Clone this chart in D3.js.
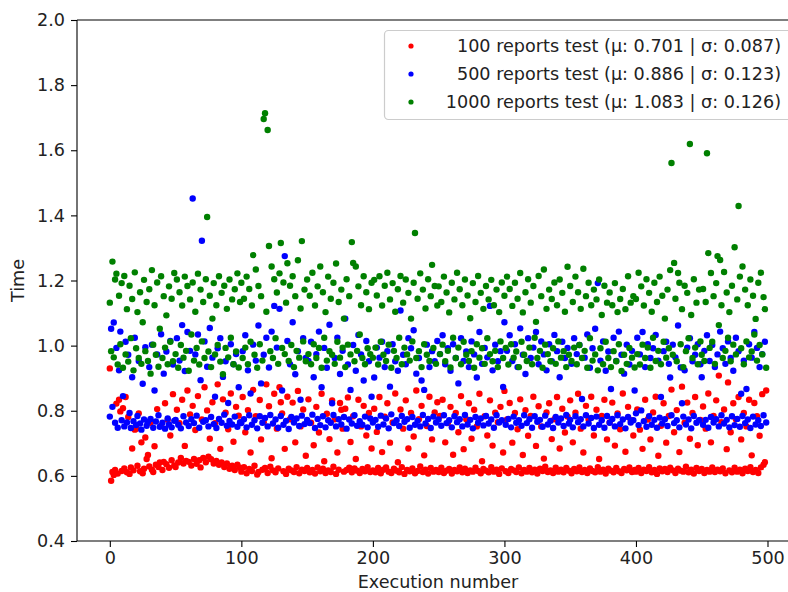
<!DOCTYPE html>
<html>
<head>
<meta charset="utf-8">
<script src="https://cdnjs.cloudflare.com/ajax/libs/d3/7.8.5/d3.min.js"></script>
<style>
  body { margin: 0; background: #fff; }
  text { font-family: "DejaVu Sans", sans-serif; }
</style>
</head>
<body>
<div id="chart"></div>
<script>
// values, one per execution (0..499)
var red100 = [
  0.930, 0.585, 0.612, 0.603, 0.618, 0.822, 0.607, 0.834, 0.798, 0.615,
  0.808, 0.623, 0.842, 0.611, 0.781, 0.606, 0.626, 0.684, 0.617, 0.742,
  0.745, 0.631, 0.792, 0.614, 0.703, 0.608, 0.622, 0.718, 0.652, 0.664,
  0.629, 0.763, 0.619, 0.612, 0.691, 0.634, 0.805, 0.627, 0.641, 0.754,
  0.618, 0.643, 0.823, 0.636, 0.772, 0.625, 0.724, 0.648, 0.851, 0.632,
  0.627, 0.803, 0.641, 0.762, 0.655, 0.834, 0.638, 0.692, 0.646, 0.862,
  0.643, 0.789, 0.632, 0.815, 0.652, 0.741, 0.637, 0.845, 0.648, 0.626,
  0.773, 0.655, 0.872, 0.642, 0.801, 0.659, 0.714, 0.651, 0.826, 0.638,
  0.762, 0.646, 0.881, 0.634, 0.683, 0.641, 0.835, 0.627, 0.794, 0.638,
  0.743, 0.622, 0.853, 0.631, 0.705, 0.618, 0.812, 0.634, 0.785, 0.625,
  0.613, 0.842, 0.627, 0.734, 0.608, 0.802, 0.621, 0.672, 0.615, 0.864,
  0.631, 0.783, 0.604, 0.612, 0.833, 0.712, 0.619, 0.765, 0.624, 0.881,
  0.609, 0.814, 0.628, 0.654, 0.617, 0.852, 0.611, 0.745, 0.623, 0.872,
  0.826, 0.792, 0.614, 0.683, 0.606, 0.843, 0.622, 0.774, 0.617, 0.825,
  0.612, 0.703, 0.627, 0.861, 0.608, 0.752, 0.619, 0.804, 0.615, 0.662,
  0.624, 0.835, 0.611, 0.763, 0.618, 0.694, 0.607, 0.812, 0.626, 0.733,
  0.614, 0.852, 0.622, 0.645, 0.609, 0.791, 0.617, 0.713, 0.612, 0.832,
  0.628, 0.774, 0.606, 0.672, 0.619, 0.824, 0.803, 0.745, 0.613, 0.806,
  0.618, 0.841, 0.625, 0.704, 0.611, 0.783, 0.623, 0.652, 0.616, 0.834,
  0.609, 0.752, 0.621, 0.815, 0.614, 0.724, 0.627, 0.793, 0.612, 0.684,
  0.617, 0.806, 0.611, 0.735, 0.624, 0.842, 0.608, 0.673, 0.619, 0.782,
  0.626, 0.823, 0.613, 0.702, 0.609, 0.764, 0.622, 0.853, 0.616, 0.642,
  0.611, 0.804, 0.627, 0.745, 0.606, 0.832, 0.618, 0.684, 0.614, 0.793,
  0.623, 0.721, 0.608, 0.862, 0.615, 0.774, 0.629, 0.815, 0.612, 0.663,
  0.619, 0.753, 0.607, 0.843, 0.624, 0.712, 0.613, 0.795, 0.618, 0.826,
  0.612, 0.784, 0.625, 0.834, 0.609, 0.703, 0.616, 0.762, 0.621, 0.812,
  0.607, 0.665, 0.618, 0.793, 0.614, 0.734, 0.626, 0.845, 0.611, 0.682,
  0.622, 0.774, 0.609, 0.823, 0.617, 0.714, 0.613, 0.803, 0.625, 0.752,
  0.615, 0.852, 0.608, 0.645, 0.621, 0.783, 0.616, 0.724, 0.611, 0.832,
  0.627, 0.693, 0.613, 0.794, 0.619, 0.765, 0.606, 0.812, 0.623, 0.672,
  0.861, 0.614, 0.773, 0.609, 0.824, 0.621, 0.702, 0.617, 0.793, 0.612,
  0.743, 0.626, 0.835, 0.608, 0.664, 0.618, 0.802, 0.613, 0.723, 0.624,
  0.784, 0.611, 0.843, 0.619, 0.692, 0.607, 0.814, 0.622, 0.752, 0.615,
  0.653, 0.628, 0.795, 0.612, 0.823, 0.617, 0.713, 0.609, 0.774, 0.625,
  0.842, 0.613, 0.684, 0.619, 0.806, 0.611, 0.733, 0.624, 0.782, 0.616,
  0.832, 0.608, 0.703, 0.621, 0.794, 0.614, 0.852, 0.626, 0.745, 0.612,
  0.672, 0.618, 0.815, 0.609, 0.773, 0.623, 0.843, 0.615, 0.724, 0.611,
  0.803, 0.627, 0.652, 0.613, 0.784, 0.619, 0.834, 0.607, 0.712, 0.622,
  0.764, 0.616, 0.825, 0.611, 0.693, 0.624, 0.792, 0.614, 0.743, 0.609,
  0.853, 0.621, 0.674, 0.617, 0.812, 0.626, 0.772, 0.612, 0.724, 0.618,
  0.613, 0.804, 0.624, 0.742, 0.609, 0.683, 0.619, 0.834, 0.615, 0.773,
  0.627, 0.712, 0.611, 0.795, 0.618, 0.843, 0.606, 0.662, 0.623, 0.754,
  0.614, 0.823, 0.621, 0.702, 0.612, 0.784, 0.625, 0.865, 0.617, 0.734,
  0.609, 0.802, 0.622, 0.673, 0.616, 0.874, 0.613, 0.763, 0.628, 0.825,
  0.611, 0.714, 0.619, 0.793, 0.607, 0.842, 0.624, 0.694, 0.615, 0.772,
  0.621, 0.813, 0.609, 0.745, 0.618, 0.853, 0.613, 0.703, 0.626, 0.784,
  0.612, 0.832, 0.619, 0.908, 0.614, 0.765, 0.623, 0.804, 0.608, 0.682,
  0.887, 0.617, 0.734, 0.611, 0.823, 0.625, 0.774, 0.613, 0.842, 0.619,
  0.712, 0.608, 0.793, 0.622, 0.752, 0.615, 0.834, 0.627, 0.663, 0.612,
  0.824, 0.618, 0.783, 0.609, 0.723, 0.626, 0.851, 0.634, 0.642, 0.862
];

var blue500 = [
  0.782, 1.052, 0.812, 1.071, 0.763, 0.993, 0.748, 0.924, 1.043, 0.771,
  0.845, 0.752, 1.012, 0.764, 0.972, 0.793, 0.747, 0.903, 0.768, 1.024,
  0.756, 0.784, 0.953, 0.761, 0.742, 0.883, 0.773, 0.995, 0.754, 0.766,
  0.934, 0.775, 1.003, 0.748, 0.862, 0.767, 0.973, 0.786, 0.751, 1.035,
  0.763, 0.914, 0.745, 0.982, 0.776, 0.758, 1.014, 0.749, 0.942, 0.769,
  0.772, 1.023, 0.757, 0.954, 0.746, 1.063, 0.783, 0.922, 0.764, 1.042,
  0.753, 0.984, 0.774, 1.452, 0.762, 0.973, 0.785, 1.034, 0.748, 0.894,
  1.322, 0.766, 1.013, 0.771, 0.935, 0.752, 1.054, 0.781, 0.963, 0.759,
  0.843, 0.747, 0.992, 0.775, 1.023, 0.763, 0.904, 0.788, 0.952, 0.754,
  0.824, 0.769, 1.004, 0.758, 0.943, 0.782, 0.974, 0.751, 0.872, 0.765,
  0.762, 0.983, 0.774, 1.032, 0.749, 0.924, 0.786, 0.853, 0.757, 1.003,
  0.771, 0.954, 0.746, 1.062, 0.783, 0.884, 0.763, 0.972, 0.778, 1.024,
  0.752, 0.933, 0.787, 1.043, 0.761, 1.122, 0.773, 0.994, 0.748, 1.113,
  0.784, 0.862, 0.757, 1.275, 0.769, 1.014, 0.744, 0.943, 0.781, 1.072,
  0.764, 0.912, 0.776, 0.983, 0.753, 0.834, 0.785, 1.023, 0.759, 0.962,
  0.772, 0.953, 0.762, 1.012, 0.788, 0.903, 0.747, 0.974, 0.775, 1.043,
  0.756, 0.872, 0.783, 0.993, 0.749, 0.932, 0.771, 1.064, 0.763, 0.823,
  0.787, 0.962, 0.752, 1.024, 0.774, 0.913, 0.758, 0.984, 0.781, 1.083,
  0.745, 0.942, 0.773, 0.864, 0.761, 1.002, 0.786, 0.923, 0.754, 1.033,
  0.768, 0.973, 0.757, 0.893, 0.782, 1.014, 0.749, 0.952, 0.776, 0.843,
  0.764, 0.902, 0.772, 0.994, 0.751, 0.963, 0.785, 1.012, 0.758, 0.934,
  0.776, 0.983, 0.746, 0.874, 0.789, 1.004, 0.762, 0.952, 0.771, 0.923,
  0.753, 1.108, 0.784, 0.972, 0.766, 0.943, 0.774, 1.023, 0.748, 0.992,
  0.781, 1.047, 0.757, 0.914, 0.769, 0.962, 0.752, 0.893, 0.787, 0.864,
  0.761, 1.003, 0.775, 0.934, 0.747, 0.983, 0.782, 0.952, 0.764, 1.014,
  0.773, 0.974, 0.754, 1.032, 0.786, 0.943, 0.762, 0.992, 0.771, 0.923,
  0.749, 1.004, 0.783, 0.962, 0.765, 0.884, 0.774, 1.023, 0.752, 0.953,
  0.787, 0.982, 0.758, 0.934, 0.772, 1.013, 0.746, 0.973, 0.781, 0.902,
  0.763, 1.042, 0.776, 0.944, 0.755, 0.993, 0.784, 0.964, 0.761, 1.122,
  0.773, 0.924, 0.748, 1.003, 0.786, 0.952, 0.764, 0.983, 0.771, 0.873,
  1.072, 0.757, 0.984, 0.775, 1.032, 0.749, 0.953, 0.782, 1.004, 0.763,
  0.934, 0.771, 1.053, 0.754, 0.972, 0.786, 0.913, 0.762, 1.023, 0.774,
  0.962, 0.748, 0.994, 0.783, 1.042, 0.766, 0.943, 0.772, 1.013, 0.751,
  0.973, 0.785, 0.924, 0.758, 1.004, 0.769, 0.952, 0.747, 1.033, 0.781,
  0.983, 0.764, 0.903, 0.776, 1.012, 0.753, 0.962, 0.787, 0.993, 0.761,
  0.772, 0.944, 0.749, 1.023, 0.783, 0.974, 0.765, 1.002, 0.774, 0.836,
  0.752, 0.963, 0.786, 1.034, 0.761, 0.932, 0.778, 0.992, 0.747, 1.052,
  0.782, 1.192, 0.757, 0.954, 0.771, 1.013, 0.748, 0.923, 0.784, 0.982,
  0.763, 0.867, 0.775, 1.024, 0.752, 0.953, 0.786, 1.043, 0.759, 0.972,
  0.773, 0.914, 0.746, 1.003, 0.781, 0.942, 0.764, 0.984, 0.771, 0.862,
  0.792, 1.024, 0.756, 0.973, 0.801, 1.042, 0.768, 0.934, 0.751, 1.004,
  0.783, 0.962, 0.757, 0.992, 0.772, 1.033, 0.748, 0.954, 0.779, 0.842,
  0.761, 0.983, 0.774, 1.012, 0.753, 0.944, 0.902, 0.786, 1.003, 0.762,
  0.964, 0.771, 1.062, 0.749, 0.933, 0.823, 0.782, 0.924, 0.758, 0.994,
  0.773, 1.023, 0.746, 0.952, 0.784, 0.972, 0.763, 1.004, 0.771, 0.943,
  0.903, 0.757, 0.984, 0.772, 1.032, 0.748, 0.953, 0.781, 1.002, 0.764,
  0.934, 0.774, 0.973, 0.752, 1.043, 0.786, 0.992, 0.761, 0.944, 0.772,
  1.013, 0.749, 0.962, 0.783, 0.923, 0.756, 1.024, 0.775, 0.983, 0.751,
  0.852, 0.784, 0.954, 0.762, 0.867, 0.773, 1.004, 0.747, 0.963, 0.782,
  1.042, 0.758, 0.993, 0.771, 0.934, 0.753, 0.974, 0.786, 1.012, 0.764
];

var green1000 = [
  1.132, 0.983, 1.258, 0.964, 1.203, 1.221, 0.942, 1.153, 1.004, 1.192,
  0.932, 1.214, 0.973, 1.112, 0.951, 1.184, 1.023, 1.143, 0.924, 1.225,
  0.992, 1.103, 0.962, 1.164, 0.944, 1.072, 1.202, 0.983, 1.134, 0.953,
  1.173, 0.914, 1.232, 1.003, 1.124, 0.972, 1.194, 0.935, 1.052, 1.213,
  0.962, 1.152, 0.994, 1.093, 0.943, 1.182, 1.012, 1.144, 0.952, 1.223,
  0.974, 1.203, 0.932, 1.164, 1.002, 1.123, 0.963, 1.212, 0.984, 1.183,
  0.923, 1.142, 1.034, 1.194, 0.954, 1.104, 0.993, 1.221, 0.942, 1.172,
  1.013, 1.134, 0.962, 1.204, 1.395, 0.982, 1.153, 0.934, 1.083, 1.192,
  0.973, 1.124, 1.002, 1.213, 0.951, 1.162, 0.912, 1.184, 0.993, 1.113,
  0.964, 1.203, 1.024, 1.142, 0.943, 1.173, 0.982, 1.222, 0.933, 1.134,
  1.193, 0.962, 1.144, 0.994, 1.212, 0.943, 1.174, 1.012, 1.123, 1.278,
  0.972, 1.234, 0.932, 1.183, 1.004, 1.152, 0.954, 1.696, 1.714, 1.104,
  1.662, 1.306, 0.983, 1.243, 0.962, 1.204, 1.023, 1.163, 0.944, 1.222,
  1.315, 0.993, 1.194, 0.974, 1.132, 1.253, 0.953, 1.184, 1.002, 1.213,
  0.934, 1.152, 0.984, 1.262, 0.963, 1.114, 1.321, 1.013, 1.172, 0.952,
  1.203, 0.974, 1.153, 0.943, 1.224, 1.004, 1.123, 0.962, 1.182, 0.993,
  1.243, 0.932, 1.164, 1.024, 1.103, 0.954, 1.212, 0.983, 1.144, 0.972,
  1.193, 0.944, 1.252, 1.012, 1.134, 0.963, 1.172, 0.994, 1.083, 0.934,
  1.204, 1.003, 1.152, 0.973, 1.318, 1.254, 0.952, 1.243, 0.984, 1.182,
  1.034, 1.124, 0.962, 1.213, 0.943, 1.164, 0.992, 1.112, 0.974, 1.193,
  0.963, 1.202, 0.994, 1.154, 0.942, 1.213, 1.012, 1.123, 0.972, 1.184,
  0.953, 1.224, 1.003, 1.142, 0.932, 1.192, 0.984, 1.104, 0.962, 1.173,
  1.024, 1.214, 0.943, 1.132, 0.994, 1.203, 0.973, 1.162, 0.954, 1.083,
  1.013, 1.193, 1.346, 0.962, 1.144, 0.983, 1.222, 0.934, 1.172, 1.004,
  1.114, 0.972, 1.204, 0.953, 1.152, 1.248, 0.993, 1.183, 0.944, 1.123,
  1.182, 0.974, 1.134, 1.003, 1.212, 0.952, 1.163, 0.984, 1.102, 0.933,
  1.193, 1.024, 1.142, 0.962, 1.224, 0.994, 1.173, 0.943, 1.124, 1.012,
  1.203, 0.972, 1.154, 0.953, 1.084, 0.983, 1.192, 0.932, 1.134, 1.004,
  1.214, 0.963, 1.162, 0.992, 1.113, 0.944, 1.183, 1.023, 1.142, 0.974,
  1.202, 0.952, 1.124, 0.984, 1.172, 0.934, 1.103, 1.013, 1.194, 0.962,
  1.153, 0.993, 1.212, 0.942, 1.174, 1.004, 1.122, 0.963, 1.193, 0.982,
  1.144, 0.934, 1.223, 1.012, 1.102, 0.972, 1.164, 0.953, 1.204, 0.994,
  1.132, 0.943, 1.183, 1.024, 1.073, 0.962, 1.214, 0.984, 1.152, 0.932,
  1.234, 1.003, 1.113, 0.974, 1.172, 0.952, 1.143, 0.992, 1.194, 0.944,
  1.124, 1.013, 1.203, 0.963, 1.162, 0.983, 1.104, 0.934, 1.242, 0.972,
  1.183, 0.953, 1.134, 0.994, 1.212, 0.943, 1.164, 1.002, 1.113, 0.962,
  1.236, 0.984, 1.152, 0.932, 1.193, 1.023, 1.124, 0.954, 1.172, 0.973,
  1.142, 0.924, 1.203, 0.992, 1.094, 0.943, 1.184, 1.012, 1.132, 0.962,
  1.163, 0.934, 1.124, 0.983, 1.192, 0.952, 1.103, 1.004, 1.143, 0.922,
  1.174, 0.972, 1.112, 0.944, 1.213, 0.993, 1.132, 0.963, 1.152, 0.933,
  1.143, 0.974, 1.224, 0.942, 1.182, 1.003, 1.123, 0.962, 1.204, 0.994,
  1.162, 0.932, 1.104, 1.024, 1.193, 0.953, 1.134, 0.984, 1.212, 0.943,
  1.153, 1.012, 1.083, 0.963, 1.172, 0.992, 1.232, 1.561, 0.972, 1.254,
  1.144, 0.952, 1.223, 1.193, 1.004, 1.112, 0.934, 1.184, 0.983, 1.162,
  1.023, 1.619, 1.094, 0.962, 1.204, 0.994, 1.132, 0.943, 1.172, 1.013,
  0.972, 1.174, 0.953, 1.134, 1.591, 1.284, 0.993, 1.223, 1.012, 1.152,
  0.944, 1.192, 1.275, 1.063, 1.263, 1.124, 0.962, 1.226, 0.984, 1.163,
  1.024, 1.103, 0.952, 1.184, 1.003, 1.302, 0.973, 1.142, 1.429, 1.212,
  0.992, 1.243, 0.943, 1.172, 1.013, 1.124, 0.964, 1.203, 0.982, 1.153,
  1.034, 1.082, 0.954, 1.193, 1.002, 1.224, 0.973, 1.149, 1.112, 0.932
];

var seriesNames = [
  "100 reports test (\u03bc: 0.701 | \u03c3: 0.087)",
  "500 reports test (\u03bc: 0.886 | \u03c3: 0.123)",
  "1000 reports test (\u03bc: 1.083 | \u03c3: 0.126)"
];
var seriesColors = ["#ff0000", "#0000ff", "#008000"];
var xTicks = [0, 100, 200, 300, 400, 500];
var yTicks = [0.4, 0.6, 0.8, 1.0, 1.2, 1.4, 1.6, 1.8, 2.0];

var width = 788, height = 592;
var mLeft = 77, mTop = 20, mBottom = 541, mRight = 799;
var fontSize = '17.6px';

var series = [red100, blue500, green1000].map(function (vals, k) {
  return { name: seriesNames[k], color: seriesColors[k], values: vals };
});

var x = d3.scaleLinear().domain([-24.95, 523.95]).range([mLeft, mRight]);
var y = d3.scaleLinear().domain([0.4, 2.0]).range([mBottom, mTop]);

var svg = d3.select('#chart')
    .append('svg')
    .attr('width', width)
    .attr('height', height);

svg.append('rect')
    .attr('width', width)
    .attr('height', height)
    .attr('fill', '#fff');

var plot = svg.append('g');

series.forEach(function (s) {
  plot.append('g')
      .selectAll('circle')
      .data(s.values)
      .enter()
      .append('circle')
      .attr('cx', function (d, i) { return x(i); })
      .attr('cy', function (d) { return y(d); })
      .attr('r', 3.2)
      .attr('fill', s.color);
});

// axes
var xAxis = svg.append('g')
    .attr('transform', 'translate(0,' + mBottom + ')')
    .call(d3.axisBottom(x).tickValues(xTicks).tickSize(6).tickPadding(5).tickFormat(d3.format('d')));

var yAxis = svg.append('g')
    .attr('transform', 'translate(' + mLeft + ',0)')
    .call(d3.axisLeft(y).tickValues(yTicks).tickSize(6).tickPadding(6).tickFormat(d3.format('.1f')));

[xAxis, yAxis].forEach(function (a) {
  a.select('.domain').remove();
  a.selectAll('line').attr('stroke', '#000').attr('stroke-width', 1.1);
  a.selectAll('text')
      .attr('font-family', '"DejaVu Sans", sans-serif')
      .attr('font-size', fontSize)
      .attr('fill', '#222');
});

// spines (the right one falls outside the picture)
[[mLeft, mTop, mLeft, mBottom], [mLeft, mBottom, mRight, mBottom], [mLeft, mTop, mRight, mTop]]
  .forEach(function (l) {
    svg.append('line')
        .attr('x1', l[0]).attr('y1', l[1]).attr('x2', l[2]).attr('y2', l[3])
        .attr('stroke', '#000').attr('stroke-width', 1.1);
  });

svg.append('text')
    .attr('x', (mLeft + mRight) / 2)
    .attr('y', 588)
    .attr('text-anchor', 'middle')
    .attr('font-size', fontSize)
    .attr('fill', '#222')
    .text('Execution number');

svg.append('text')
    .attr('transform', 'translate(24,' + ((mTop + mBottom) / 2) + ') rotate(-90)')
    .attr('text-anchor', 'middle')
    .attr('font-size', fontSize)
    .attr('fill', '#222')
    .text('Time');

// legend
var legend = svg.append('g');
legend.append('rect')
    .attr('x', 384.5)
    .attr('y', 30.5)
    .attr('width', 410)
    .attr('height', 89)
    .attr('rx', 4)
    .attr('fill', 'rgba(255,255,255,0.8)')
    .attr('stroke', '#ccc')
    .attr('stroke-width', 1.2);

var item = legend.selectAll('.legend')
    .data(series)
    .enter()
    .append('g')
    .attr('class', 'legend')
    .attr('transform', function (d, i) { return 'translate(0,' + (46 + i * 28) + ')'; });

item.append('circle')
    .attr('cx', 411)
    .attr('cy', 0)
    .attr('r', 2.6)
    .attr('fill', function (d) { return d.color; });

item.append('text')
    .attr('x', 781)
    .attr('y', 6)
    .attr('text-anchor', 'end')
    .attr('font-size', fontSize)
    .attr('fill', '#222')
    .text(function (d) { return d.name; });
</script>
</body>
</html>
